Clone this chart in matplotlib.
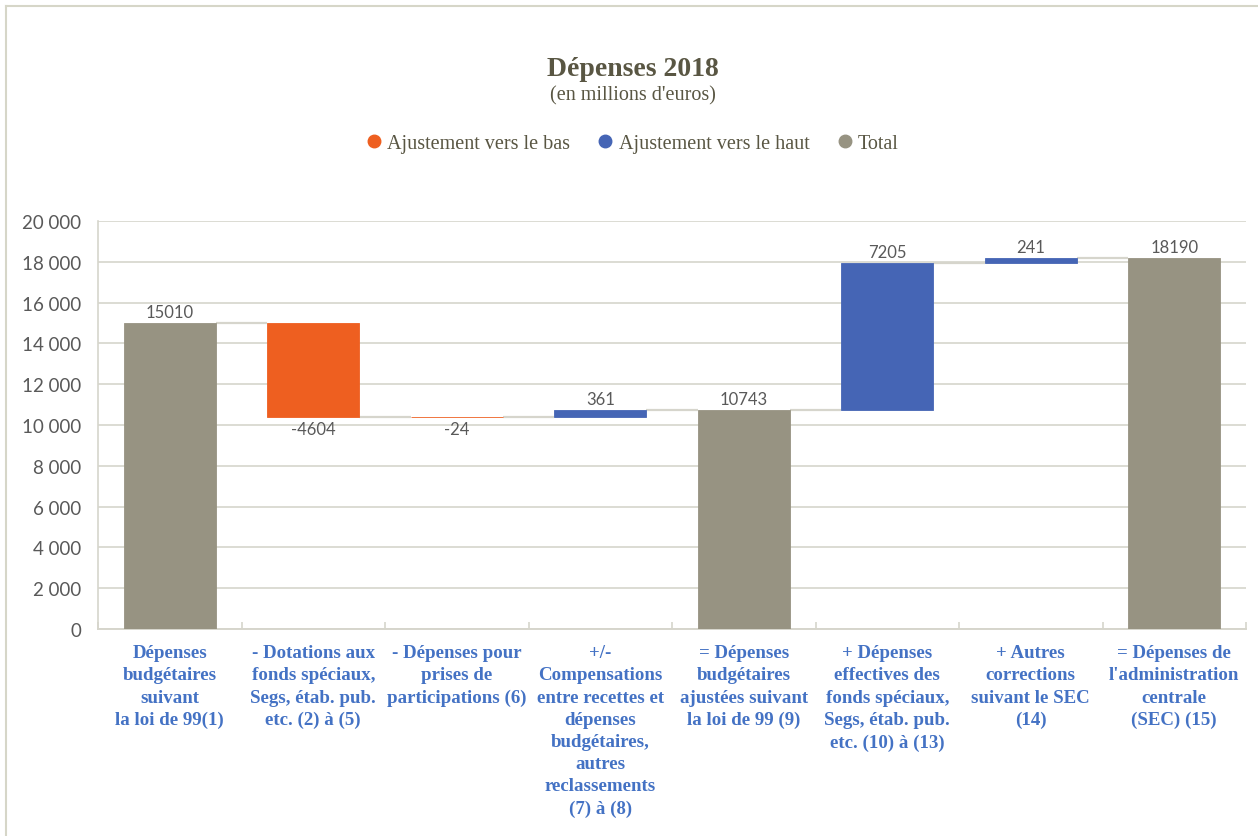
import matplotlib.pyplot as plt
import numpy as np
from matplotlib.lines import Line2D

# Données du graphique (en millions d'euros)
categories = [
    "Dépenses\nbudgétaires\nsuivant\nla loi de 99(1)",
    "- Dotations aux\nfonds spéciaux,\nSegs, étab. pub.\netc. (2) à (5)",
    "- Dépenses pour\nprises de\nparticipations (6)",
    "+/-\nCompensations\nentre recettes et\ndépenses\nbudgétaires,\nautres\nreclassements\n(7) à (8)",
    "= Dépenses\nbudgétaires\najustées suivant\nla loi de 99 (9)",
    "+ Dépenses\neffectives des\nfonds spéciaux,\nSegs, étab. pub.\netc. (10) à (13)",
    "+ Autres\ncorrections\nsuivant le SEC\n(14)",
    "= Dépenses de\nl'administration\ncentrale\n(SEC) (15)",
]
values = [15010, -4604, -24, 361, 10743, 7205, 241, 18190]
is_total = [True, False, False, False, True, False, False, True]
y_ticks = [0, 2000, 4000, 6000, 8000, 10000, 12000, 14000, 16000, 18000, 20000]
y_tick_labels = ["0", "2 000", "4 000", "6 000", "8 000", "10 000",
                 "12 000", "14 000", "16 000", "18 000", "20 000"]
legend_labels = ["Ajustement vers le bas", "Ajustement vers le haut", "Total"]

c_down = '#EE5F20'
c_up = '#4565B5'
c_total = '#979382'
c_grid = '#D6D5CC'
c_text = '#595959'
serif = 'Liberation Serif'
sans = 'Lato'

# Calcul des bases et hauteurs du waterfall
bottoms, heights, colors, levels = [], [], [], []
running = 0
for v, t in zip(values, is_total):
    if t:
        bottoms.append(0)
        heights.append(v)
        colors.append(c_total)
        running = v
    else:
        bottoms.append(running + min(v, 0))
        heights.append(abs(v))
        colors.append(c_up if v >= 0 else c_down)
        running += v
    levels.append(running)

fig = plt.figure(figsize=(12.58, 8.37), dpi=100)
ax = fig.add_axes([0.0779, 0.2473, 0.9126, 0.4875])

x = np.arange(len(values))
w = 0.64
ax.bar(x, heights, bottom=bottoms, width=w, color=colors, edgecolor=colors,
       linewidth=0.6, zorder=3)

# Lignes de liaison entre les barres
for i in range(len(values) - 1):
    ax.plot([i + w / 2, i + 1 - w / 2], [levels[i], levels[i]],
            color=c_grid, lw=1.6, zorder=2, solid_capstyle='butt')

# Etiquettes de valeurs
for i, v in enumerate(values):
    if v >= 0:
        ax.annotate(str(v), (i, bottoms[i] + heights[i]), xytext=(0, 2),
                    textcoords='offset points', ha='center', va='bottom',
                    fontsize=12, family=sans, color=c_text)
    else:
        ax.annotate(str(v), (i, bottoms[i]), xytext=(0, -3),
                    textcoords='offset points', ha='center', va='top',
                    fontsize=12, family=sans, color=c_text)

ax.set_xlim(-0.5, len(values) - 0.5)
ax.set_ylim(0, 20000)
ax.set_yticks(y_ticks)
ax.set_yticklabels(y_tick_labels, family=sans, fontsize=13.5, color=c_text)
ax.set_xticks(x)
ax.set_xticklabels(categories, family=serif, fontweight='bold', fontsize=13.6,
                   color='#4472C4', linespacing=1.4, va='top')
ax.set_xticks(np.arange(-0.5, len(values)), minor=True)
ax.tick_params(axis='x', which='major', length=0, pad=11)
ax.tick_params(axis='x', which='minor', length=5, direction='in', color=c_grid, width=1.2)
ax.tick_params(axis='y', length=0, pad=12)
ax.grid(axis='y', color=c_grid, lw=1.2, zorder=0)
ax.set_axisbelow(True)
for s in ['top', 'right']:
    ax.spines[s].set_visible(False)
ax.spines['left'].set_color(c_grid)
ax.spines['left'].set_linewidth(1.2)
ax.spines['bottom'].set_color(c_grid)
ax.spines['bottom'].set_linewidth(1.4)

# Titre et sous-titre
fig.text(0.503, 0.917, "Dépenses 2018", ha='center', va='center', family=serif,
         fontweight='bold', fontsize=20, color='#595643')
fig.text(0.503, 0.886, "(en millions d'euros)", ha='center', va='center', family=serif,
         fontsize=14.5, color='#595643')

# Légende
handles = [Line2D([], [], marker='o', ls='none', color=c, markersize=9)
           for c in [c_down, c_up, c_total]]
fig.legend(handles, legend_labels, loc='center', bbox_to_anchor=(0.503, 0.827),
           ncol=3, frameon=False, prop={'family': serif, 'size': 14.5},
           labelcolor='#595643', handlelength=0.7, handletextpad=0.3,
           columnspacing=1.4)

# Bordure du graphique
fig.add_artist(Line2D([0.0048, 0.0048], [0, 0.9922], color='#D6D6C8', lw=1.5))
fig.add_artist(Line2D([0.0048, 1], [0.9922, 0.9922], color='#D6D6C8', lw=1.5))

fig.savefig('out.png', dpi=100)
